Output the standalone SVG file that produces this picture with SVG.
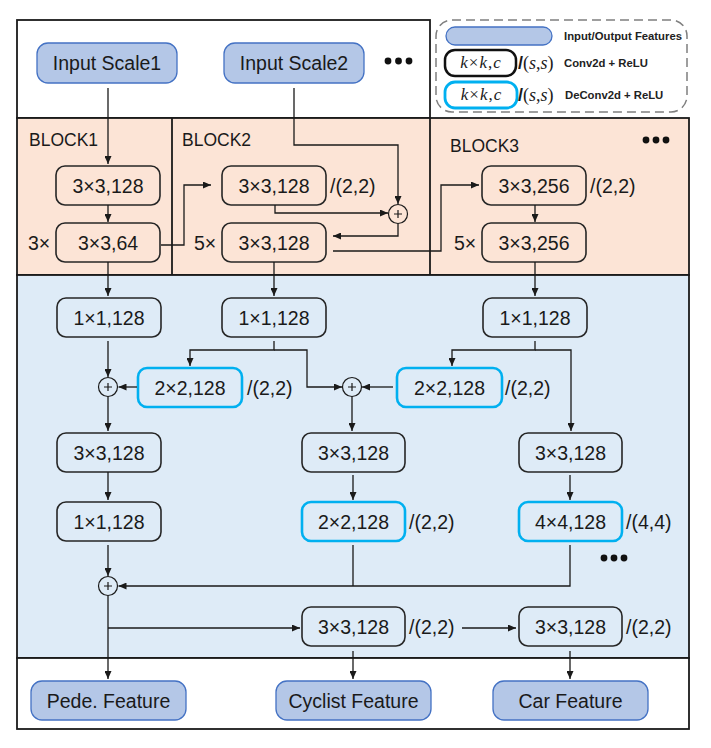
<svg xmlns="http://www.w3.org/2000/svg" width="711" height="748" viewBox="0 0 711 748">
<defs>
<marker id="ah" markerUnits="userSpaceOnUse" markerWidth="8" markerHeight="7" refX="8" refY="3.5" orient="auto">
<path d="M0,0 L8,3.5 L0,7 z" fill="#1a1a1a"/>
</marker>
<style>
.fr{stroke:#1a1a1a;stroke-width:1.8}
.n{fill:none;stroke:#262626;stroke-width:1.6}
.d{fill:none;stroke:#00b0f0;stroke-width:2.6}
.io{fill:#b4c7e7;stroke:#4472c4;stroke-width:1.3}
.t{font-family:"Liberation Sans",Arial,sans-serif;font-size:19.5px;fill:#1a1a1a;text-anchor:middle}
.s{text-anchor:start}
.b{font-size:17.5px}
.lg{font-family:"Liberation Sans",Arial,sans-serif;font-size:11.3px;font-weight:bold;fill:#222}
.sf{font-family:"Liberation Serif","Times New Roman",serif;fill:#1a1a1a}
.kk{font-size:17px;letter-spacing:1px;text-anchor:middle}
.ss{font-size:18px}
.c path{fill:none;stroke:#1a1a1a;stroke-width:1.3}
.a{marker-end:url(#ah)}
.pl{fill:none;stroke:#1a1a1a;stroke-width:1.2}
.dot{fill:#111}
</style>
</defs>

<g id="regions">
<rect x="17" y="20" width="413" height="98" fill="#ffffff" class="fr"/>
<rect x="17" y="118" width="672" height="157" fill="#fce4d6" class="fr"/>
<rect x="17" y="275" width="672" height="383" fill="#deebf7" class="fr"/>
<rect x="17" y="658" width="672" height="71" fill="#ffffff" class="fr"/>
<line x1="172" y1="118" x2="172" y2="275" class="fr"/>
<line x1="430" y1="118" x2="430" y2="275" class="fr"/>
<text x="29" y="146" class="t s b">BLOCK1</text>
<text x="182" y="146" class="t s b">BLOCK2</text>
<text x="450" y="152" class="t s b">BLOCK3</text>
<circle cx="388" cy="61" r="3.4" class="dot"/><circle cx="398.5" cy="61" r="3.4" class="dot"/><circle cx="409" cy="61" r="3.4" class="dot"/>
<circle cx="646" cy="140" r="3.4" class="dot"/><circle cx="656" cy="140" r="3.4" class="dot"/><circle cx="666" cy="140" r="3.4" class="dot"/>
<circle cx="604" cy="558" r="3.4" class="dot"/><circle cx="614" cy="558" r="3.4" class="dot"/><circle cx="624" cy="558" r="3.4" class="dot"/>
</g>

<g id="legend">
<rect x="436" y="20" width="251" height="92" rx="16" fill="none" stroke="#7f7f7f" stroke-width="1.5" stroke-dasharray="9 5"/>
<rect x="446" y="27" width="106" height="18" rx="9" class="io"/>
<text x="564" y="40" class="lg">Input/Output Features</text>
<rect x="445" y="50" width="71" height="26" rx="10" fill="none" stroke="#111" stroke-width="2.5"/>
<text x="481" y="68" class="sf kk"><tspan font-style="italic">k</tspan>×<tspan font-style="italic">k</tspan>,<tspan font-style="italic">c</tspan></text>
<text x="518" y="69" class="sf ss"><tspan font-family="Liberation Sans,Arial,sans-serif" font-weight="bold">/</tspan>(<tspan font-style="italic">s</tspan>,<tspan font-style="italic">s</tspan>)</text>
<text x="564" y="67" class="lg">Conv2d + ReLU</text>
<rect x="445" y="82" width="72" height="26" rx="10" fill="none" stroke="#00b0f0" stroke-width="2.8"/>
<text x="481.5" y="100" class="sf kk"><tspan font-style="italic">k</tspan>×<tspan font-style="italic">k</tspan>,<tspan font-style="italic">c</tspan></text>
<text x="518" y="101" class="sf ss"><tspan font-family="Liberation Sans,Arial,sans-serif" font-weight="bold">/</tspan>(<tspan font-style="italic">s</tspan>,<tspan font-style="italic">s</tspan>)</text>
<text x="565" y="99" class="lg">DeConv2d + ReLU</text>
</g>

<g id="input1"><rect x="37" y="43" width="140" height="40" rx="11" class="io"/><text x="107" y="70" class="t">Input Scale1</text></g>
<g id="input2"><rect x="224" y="43" width="140" height="40" rx="11" class="io"/><text x="294" y="70" class="t">Input Scale2</text></g>

<g id="b1c1"><rect x="56" y="166" width="104" height="39" rx="9" class="n"/><text x="108" y="192.5" class="t">3×3,128</text></g>
<g id="b1c2"><rect x="56" y="223" width="104" height="39" rx="9" class="n"/><text x="108" y="249.5" class="t">3×3,64</text><text x="39" y="249.5" class="t">3×</text></g>
<g id="b2c1"><rect x="222" y="166" width="104" height="39" rx="9" class="n"/><text x="274" y="192.5" class="t">3×3,128</text><text x="330" y="192.5" class="t s">/(2,2)</text></g>
<g id="b2c2"><rect x="222" y="223" width="104" height="39" rx="9" class="n"/><text x="274" y="249.5" class="t">3×3,128</text><text x="205" y="249.5" class="t">5×</text></g>
<g id="b3c1"><rect x="482" y="166" width="104" height="39" rx="9" class="n"/><text x="534" y="192.5" class="t">3×3,256</text><text x="590" y="192.5" class="t s">/(2,2)</text></g>
<g id="b3c2"><rect x="482" y="223" width="104" height="39" rx="9" class="n"/><text x="534" y="249.5" class="t">3×3,256</text><text x="465" y="249.5" class="t">5×</text></g>

<g id="l1"><rect x="57" y="298" width="104" height="39" rx="9" class="n"/><text x="109" y="324.5" class="t">1×1,128</text></g>
<g id="m1"><rect x="222" y="298" width="104" height="39" rx="9" class="n"/><text x="274" y="324.5" class="t">1×1,128</text></g>
<g id="r1"><rect x="483" y="298" width="104" height="39" rx="9" class="n"/><text x="535" y="324.5" class="t">1×1,128</text></g>

<g id="up1"><rect x="138" y="368" width="104" height="39" rx="9" class="d"/><text x="190" y="394.5" class="t">2×2,128</text><text x="247" y="394.5" class="t s">/(2,2)</text></g>
<g id="up2"><rect x="397" y="368" width="105" height="39" rx="9" class="d"/><text x="449.5" y="394.5" class="t">2×2,128</text><text x="505" y="394.5" class="t s">/(2,2)</text></g>

<g id="add1"><circle cx="108" cy="387" r="9.5" class="pl"/><path d="M104,387 H112 M108,383 V391" class="pl"/></g>
<g id="add2"><circle cx="352" cy="387" r="9.5" class="pl"/><path d="M348,387 H356 M352,383 V391" class="pl"/></g>
<g id="add0"><circle cx="398" cy="214" r="9.5" class="pl"/><path d="M394,214 H402 M398,210 V218" class="pl"/></g>
<g id="add3"><circle cx="108" cy="586" r="9.5" class="pl"/><path d="M104,586 H112 M108,582 V590" class="pl"/></g>

<g id="l2"><rect x="57" y="433" width="104" height="39" rx="9" class="n"/><text x="109" y="459.5" class="t">3×3,128</text></g>
<g id="m2"><rect x="302" y="433" width="103" height="39" rx="9" class="n"/><text x="353.5" y="459.5" class="t">3×3,128</text></g>
<g id="r2"><rect x="519" y="433" width="103" height="39" rx="9" class="n"/><text x="570.5" y="459.5" class="t">3×3,128</text></g>

<g id="l3"><rect x="57" y="502" width="104" height="39" rx="9" class="n"/><text x="109" y="528.5" class="t">1×1,128</text></g>
<g id="m3"><rect x="302" y="502" width="103" height="39" rx="9" class="d"/><text x="353.5" y="528.5" class="t">2×2,128</text><text x="409" y="528.5" class="t s">/(2,2)</text></g>
<g id="r3"><rect x="519" y="502" width="103" height="39" rx="9" class="d"/><text x="570.5" y="528.5" class="t">4×4,128</text><text x="626" y="528.5" class="t s">/(4,4)</text></g>

<g id="m4"><rect x="302" y="607" width="103" height="39" rx="9" class="n"/><text x="353.5" y="633.5" class="t">3×3,128</text><text x="409" y="633.5" class="t s">/(2,2)</text></g>
<g id="r4"><rect x="519" y="607" width="103" height="39" rx="9" class="n"/><text x="570.5" y="633.5" class="t">3×3,128</text><text x="626" y="633.5" class="t s">/(2,2)</text></g>

<g id="out1"><rect x="31" y="681" width="155" height="39" rx="11" class="io"/><text x="108.5" y="707.5" class="t">Pede. Feature</text></g>
<g id="out2"><rect x="276" y="681" width="155" height="39" rx="11" class="io"/><text x="353.5" y="707.5" class="t">Cyclist Feature</text></g>
<g id="out3"><rect x="493" y="681" width="155" height="39" rx="11" class="io"/><text x="570.5" y="707.5" class="t">Car Feature</text></g>

<g id="connectors" class="c">
<path class="a" d="M108,88 V164"/>
<path class="a" d="M108,205 V222"/>
<path class="a" d="M161,245 H184 V185 H211"/>
<path class="a" d="M294,88 V145 H398 V204"/>
<path class="a" d="M275,205 V213 H388"/>
<path class="a" d="M398,223.5 V236 H333"/>
<path class="a" d="M333,251 H441 V185 H479"/>
<path class="a" d="M535,205 V222"/>
<path class="a" d="M108,262 V296"/>
<path class="a" d="M274,262 V296"/>
<path class="a" d="M535,262 V296"/>
<path class="a" d="M108,341 V377"/>
<path class="a" d="M274,341 V350 H190 V366"/>
<path class="a" d="M274,350 H307 V387 H342"/>
<path class="a" d="M137,387 H118.5"/>
<path class="a" d="M108,396.5 V431"/>
<path class="a" d="M108,472 V500"/>
<path class="a" d="M108,545 V576"/>
<path class="a" d="M535,341 V350 H452 V366"/>
<path class="a" d="M535,350 H571 V431"/>
<path class="a" d="M393,387 H362"/>
<path class="a" d="M352,396.5 V431"/>
<path class="a" d="M353,475 V500"/>
<path class="a" d="M570,475 V500"/>
<path class="a" d="M570,545 V586 H118.5"/>
<path d="M353,545 V586"/>
<path class="a" d="M108,595.5 V679"/>
<path class="a" d="M108,628 H300"/>
<path class="a" d="M462,628 H516"/>
<path class="a" d="M353,651 V679"/>
<path class="a" d="M570,651 V679"/>
</g>
</svg>
